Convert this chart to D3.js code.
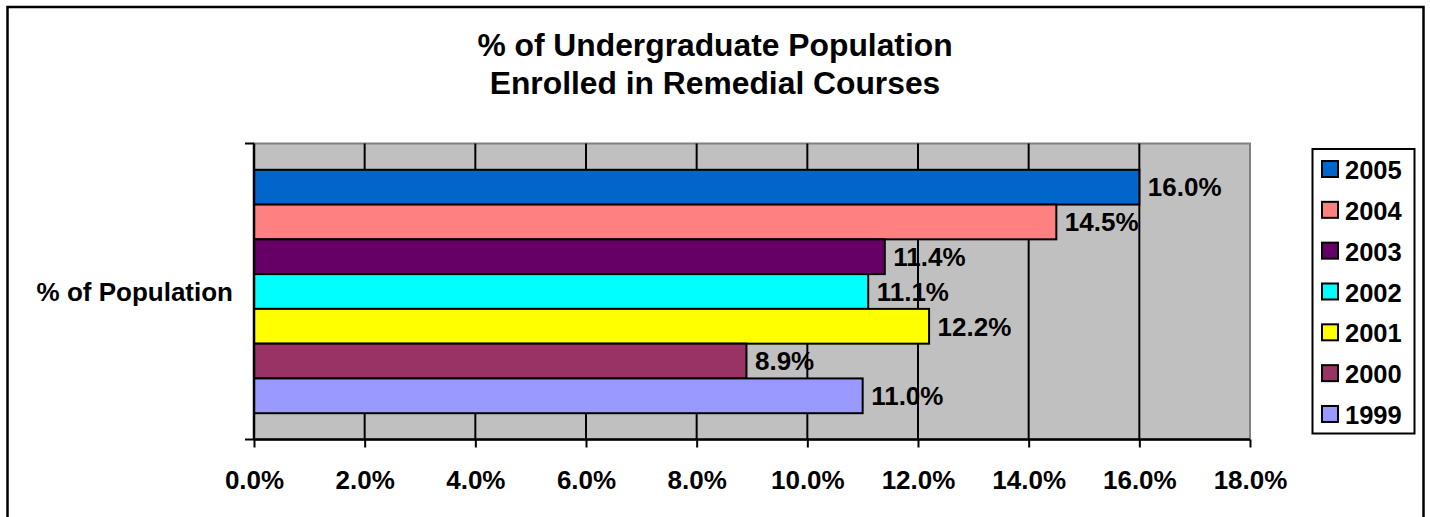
<!DOCTYPE html>
<html>
<head>
<meta charset="utf-8">
<script src="https://cdn.jsdelivr.net/npm/d3@7"></script>
<style>
  body { margin: 0; background: #fff; }
  svg { display: block; font-family: "Liberation Sans", Arial, sans-serif; font-weight: bold; }
</style>
</head>
<body>
<svg id="chart" width="1430" height="517"></svg>
<script>
// data
const years = ["2005", "2004", "2003", "2002", "2001", "2000", "1999"];
const values = [16.0, 14.5, 11.4, 11.1, 12.2, 8.9, 11.0];
const colors = ["#0066CC", "#FF8080", "#660066", "#00FFFF", "#FFFF00", "#993366", "#9999FF"];
const xTicks = [0, 2, 4, 6, 8, 10, 12, 14, 16, 18];
const category = "% of Population";
const titleLines = ["% of Undergraduate Population", "Enrolled in Remedial Courses"];

const svg = d3.select('#chart');
const fs = 26;

// outer chart border (bottom runs off the picture)
svg.append('path')
  .attr('d', 'M7.5,540 L7.5,7 L1423.5,7 L1423.5,540')
  .attr('fill', 'none')
  .attr('stroke', '#000')
  .attr('stroke-width', 2.5);

const margin = { top: 143.5, left: 254 };
const plotW = 996, plotH = 296;

const x = d3.scaleLinear().domain([0, 18]).range([0, plotW]);
const band = d3.scaleBand().domain([category]).range([0, plotH]).paddingInner(0).paddingOuter(0.108);
const y = d3.scaleBand().domain(years).range([0, band.bandwidth()]);

const g = svg.append('g').attr('transform', `translate(${margin.left},${margin.top})`);

// plot area
g.append('rect')
  .attr('width', plotW).attr('height', plotH)
  .attr('fill', '#C0C0C0')
  .attr('stroke', '#808080').attr('stroke-width', 2);

// gridlines
g.selectAll('.grid').data(xTicks.slice(1, -1)).enter().append('line')
  .attr('class', 'grid')
  .attr('x1', d => x(d)).attr('x2', d => x(d))
  .attr('y1', 0).attr('y2', plotH)
  .attr('stroke', '#000').attr('stroke-width', 2);

// bars
const bg = g.append('g').attr('transform', `translate(0,${band(category)})`);
bg.selectAll('rect').data(years).enter().append('rect')
  .attr('x', 0)
  .attr('y', d => y(d))
  .attr('width', (d, i) => x(values[i]))
  .attr('height', y.bandwidth())
  .attr('fill', (d, i) => colors[i])
  .attr('stroke', '#000').attr('stroke-width', 2);

// axes
const xAxis = d3.axisBottom(x).tickValues(xTicks).tickSize(8).tickPadding(0)
  .tickFormat(d => d.toFixed(1) + '%');
const xg = g.append('g').attr('transform', `translate(0,${plotH})`).call(xAxis);
xg.select('.domain').attr('stroke-width', 2.5).attr('d', `M0,0H${plotW}`);
xg.selectAll('.tick line').attr('stroke-width', 2);
xg.selectAll('text')
  .attr('y', 49).attr('dy', null)
  .attr('font-size', fs).attr('font-weight', 'bold')
  .attr('font-family', '"Liberation Sans", Arial, sans-serif').attr('fill', '#000');

const yAxisLine = g.append('g');
yAxisLine.append('line').attr('x1', 0).attr('x2', 0).attr('y1', 0).attr('y2', plotH)
  .attr('stroke', '#000').attr('stroke-width', 2.5);
yAxisLine.selectAll('.ytick').data([0, plotH]).enter().append('line')
  .attr('x1', -9).attr('x2', 0).attr('y1', d => d).attr('y2', d => d)
  .attr('stroke', '#000').attr('stroke-width', 2);

g.append('text')
  .attr('x', -21).attr('y', band(category) + band.bandwidth() / 2 + fs * 0.358)
  .attr('text-anchor', 'end')
  .attr('font-size', fs)
  .text(category);

// value labels
bg.selectAll('.lbl').data(years).enter().append('text')
  .attr('class', 'lbl')
  .attr('x', (d, i) => x(values[i]) + 8.5)
  .attr('y', d => y(d) + y.bandwidth() / 2 + fs * 0.358)
  .attr('font-size', fs)
  .text((d, i) => values[i].toFixed(1) + '%');

// title
svg.append('text')
  .attr('text-anchor', 'middle')
  .attr('font-size', 31.8)
  .selectAll('tspan').data(titleLines).enter().append('tspan')
  .attr('x', 715).attr('y', (d, i) => 55.5 + i * 38.5)
  .text(d => d);

// legend
const lg = svg.append('g').attr('transform', 'translate(1312.5,149)');
lg.append('rect').attr('width', 102).attr('height', 284.5)
  .attr('fill', '#fff').attr('stroke', '#000').attr('stroke-width', 2);
const item = lg.selectAll('.item').data(years).enter().append('g')
  .attr('transform', (d, i) => `translate(9.5,${20 + i * 40.83})`);
item.append('rect').attr('x', 0).attr('y', -8).attr('width', 16).attr('height', 16)
  .attr('fill', (d, i) => colors[i]).attr('stroke', '#000').attr('stroke-width', 2);
item.append('text').attr('x', 23).attr('y', 1 + 25.5 * 0.358)
  .attr('font-size', 25.5)
  .text(d => d);
</script>
</body>
</html>
